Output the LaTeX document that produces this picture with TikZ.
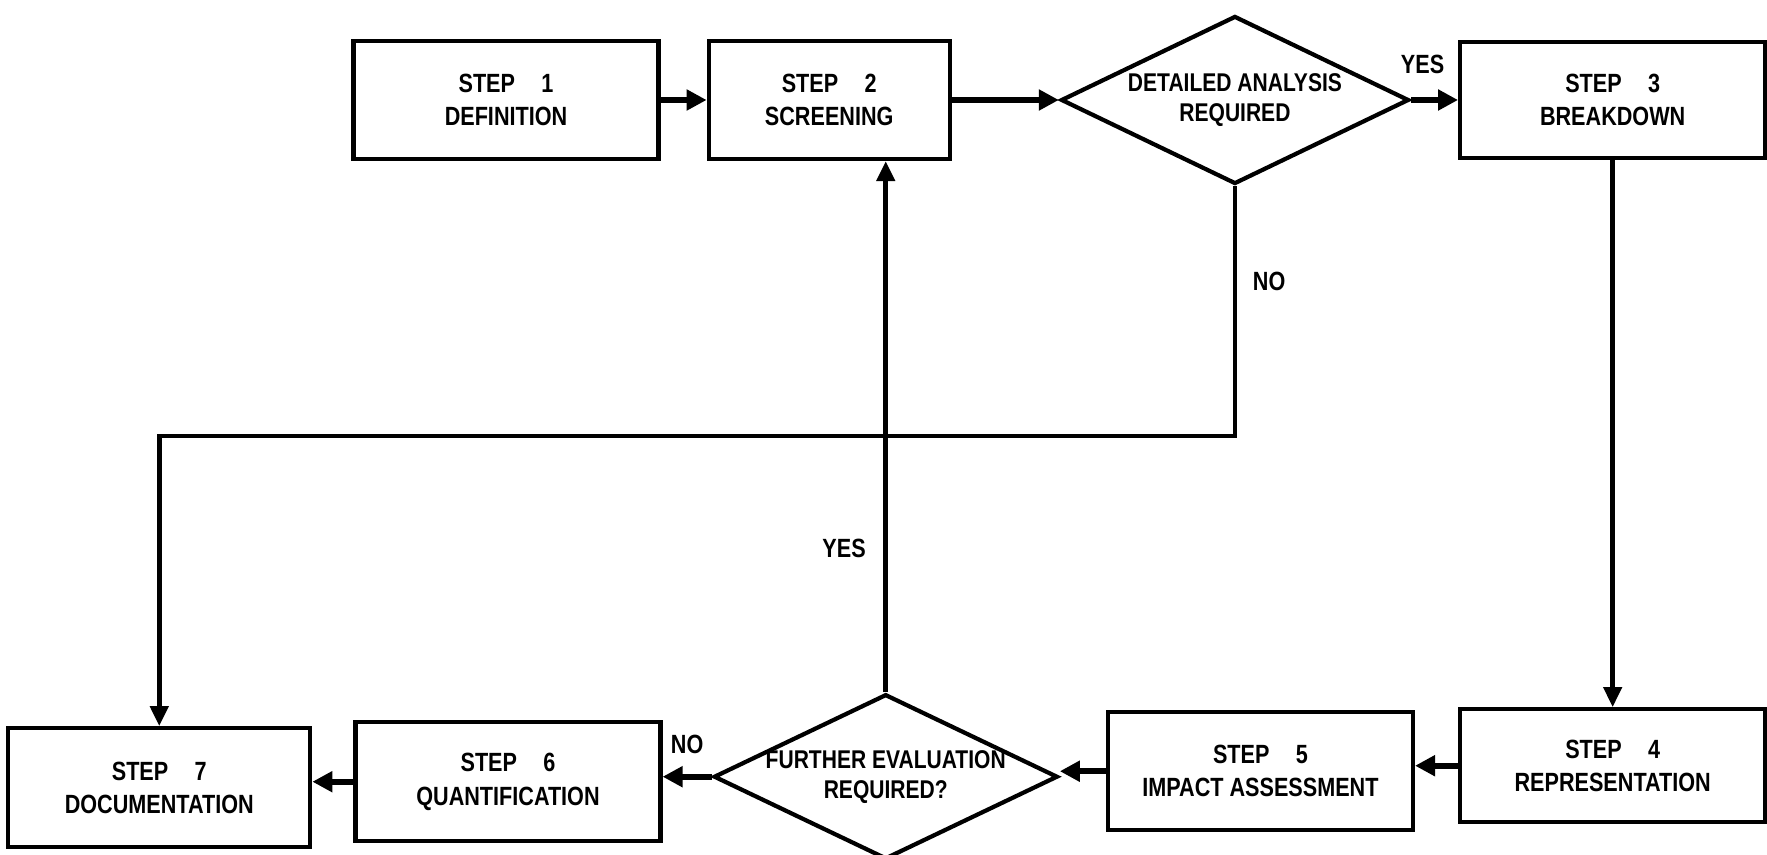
\documentclass[tikz,border=0pt]{standalone}
\usepackage{fontspec}
\setmainfont{Liberation Sans}[FakeStretch=0.82]
\usepackage{tikz}
\usetikzlibrary{positioning}
\usetikzlibrary{shapes.geometric,arrows.meta}

\begin{document}
\begin{tikzpicture}[
stepnode/.style={rectangle, draw=black, line width=1.2pt, minimum width=3.05cm, minimum height=1.18cm, align=center, font=\bfseries\fontsize{7.5}{9.5}\selectfont},
decnode/.style={diamond, aspect=2.07, draw=black, line width=1.2pt, inner xsep=-5mm, inner ysep=0pt, minimum width=3.48cm, minimum height=1.68cm, align=center, font=\bfseries\fontsize{7.3}{8.6}\selectfont},
flow/.style={line width=1.8pt, -{Triangle[length=2mm, width=2mm]}},
link/.style={line width=1.3pt, -{Triangle[length=2mm, width=1.8mm]}},
lbl/.style={font=\bfseries\fontsize{7.5}{9}\selectfont}
]
\useasboundingbox (0,0) rectangle (17.67,-8.55);

%Nodes
\node[stepnode] (S1) at (5.06,-1.0) {STEP\hspace{1em}1\\DEFINITION};
\node[stepnode, minimum width=2.41cm] (S2) [right=4.6mm of S1] {STEP\hspace{1em}2\\SCREENING};
\node[decnode] (D1) [right=10.7mm of S2] {DETAILED ANALYSIS\\REQUIRED};
\node[stepnode, minimum height=1.16cm] (S3) [right=4.7mm of D1] {STEP\hspace{1em}3\\BREAKDOWN};

\node[stepnode, minimum height=1.13cm] (S4) [below=5.47 of S3] {STEP\hspace{1em}4\\REPRESENTATION};
\node[stepnode] (S5) [left=4.3mm of S4, yshift=-0.55mm] {STEP\hspace{1em}5\\IMPACT ASSESSMENT};
\node[decnode, minimum width=3.44cm, minimum height=1.65cm] (D2) [left=4.6mm of S5, yshift=-0.55mm] {FURTHER EVALUATION\\REQUIRED?};
\node[stepnode, minimum height=1.19cm] (S6) [left=4.9mm of D2, yshift=-0.5mm] {STEP\hspace{1em}6\\QUANTIFICATION};
\node[stepnode, minimum width=3.02cm, minimum height=1.19cm] (S7) [left=4.1mm of S6, yshift=-0.6mm] {STEP\hspace{1em}7\\DOCUMENTATION};

\path (D1.south) ++(0,-2.5) coordinate (T1);

%Lines
\draw[flow] (S1.east) -- (S1.east -| S2.west);
\draw[flow] (S2.east) -- (D1.west);
\draw[flow] (D1.east) -- node[lbl, above=1.1mm, xshift=-1.2mm] {YES} (D1.east -| S3.west);
\draw[link] (S3.south) -- (S3.south |- S4.north);

\draw[flow] (S4.west) -- (S4.west -| S5.east);
\draw[flow] (S5.west) -- (S5.west -| D2.east);
\draw[flow] (D2.west) -- node[lbl, above=0.8mm] {NO} (D2.west -| S6.east);
\draw[flow] (S6.west) -- (S6.west -| S7.east);

\draw[link] (D2.north) -- node[lbl, left=0.6mm, pos=0.27] {YES} (D2.north |- S2.south);
\draw[link] (D1.south) -- node[lbl, right=0.4mm, pos=0.38] {NO} (T1) -| (S7.north);
\end{tikzpicture}
\end{document}
